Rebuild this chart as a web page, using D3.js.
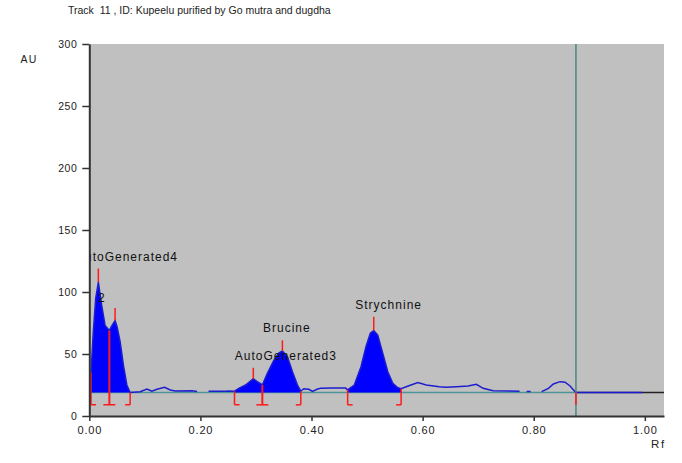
<!DOCTYPE html>
<html><head><meta charset="utf-8">
<script src="https://cdn.jsdelivr.net/npm/d3@7"></script>
<style>body{margin:0;background:#fff}svg{display:block}text{font-family:"Liberation Sans",Arial,sans-serif}</style>
</head><body><svg id="c" width="682" height="463"></svg>
<script>
// ---- data ----
const titleText = "Track  11 , ID: Kupeelu purified by Go mutra and dugdha";
const yTicks = [0, 50, 100, 150, 200, 250, 300];
const xTicks = [0, 0.2, 0.4, 0.6, 0.8, 1.0];
const rfMax = 1.0345;
// densitogram profile (null = gap in trace)
const profileRf = [0.0031,0.0072,0.0116,0.0163,0.0224,0.0284,0.0361,0.041,0.0464,0.05,0.0555,0.0614,0.0676,0.0735,
  0.0916,0.1037,0.1127,0.1218,0.1355,0.1458,0.1548,0.185,0.194,0.2053,0.2146,0.2452,0.2506,
  0.2614,0.2692,0.2813,0.2952,0.3024,0.3115,0.3205,0.3324,0.3415,0.3476,0.3566,0.3657,0.3747,0.3807,
  0.386,0.3952,0.4018,0.4108,0.4168,0.4349,0.453,0.4616,
  0.465,0.477,0.4891,0.4981,0.5059,0.512,0.5192,0.5283,0.5373,0.5463,0.5554,0.5613,
  0.574,0.5915,0.6065,0.63,0.6427,0.6607,0.6818,0.6968,0.7089,0.727,0.7745,0.78,0.7872,0.7944,0.80,
  0.8143,0.8264,0.8354,0.8473,0.8564,0.8654,0.8744,0.876,0.9952];
const profileAU = [35,68,95,108,89,73,69,73,77,72,60,41,25,19,
  19.6,21.8,20,21.5,23.1,21,20.2,20.4,19.8,null,20,20,20.2,
  20,22.3,25,30,27.7,25,34.4,45,51,52.5,47.8,35.7,25,20,
  22,21.5,19.8,21.8,22.3,22.5,22.5,22.5,
  21,25,39.8,56,66.7,69,65.3,50.5,35.7,26.4,22.8,22,
  24.2,27,25,23.6,23.1,23.6,24.2,25.5,22.3,20.4,20,null,19.8,19.8,null,
  19.6,22.3,25.8,27.7,27.2,24.2,19.6,19,19];
const baselineAU = 19;
const fillRanges = [[0.0031,0.0735],[0.2614,0.3807],[0.465,0.5613]];
const startBounds = [0.0031, 0.2614, 0.465];
const midBounds = [0.0361, 0.3115];
const endBounds = [0.0735, 0.3807, 0.5613];
const bracketAU = 9;
const peakRf = [0.0163, 0.0464, 0.2952, 0.3476, 0.512];
const peakAU = [108, 77, 30, 52.5, 69];
const markerTopAU = [119, 87, 39, 61, 80];
const frontRf = 0.876;
const labelText = ["AutoGenerated4", "2", "Brucine", "AutoGenerated3", "Strychnine"];
const labelRf = [-0.024, 0.0157, 0.3126, 0.262, 0.4788];
const labelAU = [125, 92, 67.5, 45.2, 85.9];

// ---- chart ----
const svg = d3.select("#c");
const x = d3.scaleLinear().domain([0, rfMax]).range([89.3, 664]);
const y = d3.scaleLinear().domain([0, 300]).range([416, 44]);

svg.append("text").attr("x", 68).attr("y", 13.5).attr("font-size", 10.5).attr("fill", "#222")
  .attr("xml:space", "preserve").style("white-space", "pre").text(titleText);

svg.append("defs").append("clipPath").attr("id", "pc").append("rect")
  .attr("x", x(0)).attr("y", y(300)).attr("width", x(rfMax) - x(0)).attr("height", y(0) - y(300));

svg.append("rect").attr("x", x(0)).attr("y", y(300)).attr("width", x(rfMax) - x(0)).attr("height", y(0) - y(300)).attr("fill", "#c0c0c0");

const g = svg.append("g").attr("clip-path", "url(#pc)");

const pts = profileRf.map((r, i) => ({r, a: profileAU[i]}));
const valid = pts.filter(d => d.a !== null);
const interp = r => {
  for (let i = 0; i < valid.length - 1; i++) {
    if (r >= valid[i].r && r <= valid[i+1].r) {
      const t = (r - valid[i].r) / (valid[i+1].r - valid[i].r);
      return valid[i].a + t * (valid[i+1].a - valid[i].a);
    }
  }
  return baselineAU;
};

// baseline
g.append("line").attr("x1", x(0)).attr("x2", x(frontRf)).attr("y1", y(baselineAU)).attr("y2", y(baselineAU))
  .attr("stroke", "#4f9595").attr("stroke-width", 1.5);
g.append("line").attr("x1", x(frontRf)).attr("x2", x(rfMax)).attr("y1", y(baselineAU)).attr("y2", y(baselineAU))
  .attr("stroke", "#222").attr("stroke-width", 1.5);

// fills
const area = d3.area().x(d => x(d.r)).y0(y(baselineAU)).y1(d => y(d.a));
fillRanges.forEach(([s, e]) => {
  const seg = valid.filter(d => d.r >= s - 1e-9 && d.r <= e + 1e-9);
  g.append("path").attr("d", area(seg)).attr("fill", "#0000ff");
});

// profile line
const line = d3.line().defined(d => d.a !== null).x(d => x(d.r)).y(d => y(d.a));
g.append("path").attr("d", line(pts)).attr("fill", "none").attr("stroke", "#1d1dd0").attr("stroke-width", 1.5);

// solvent front
g.append("line").attr("x1", x(frontRf)).attr("x2", x(frontRf)).attr("y1", y(300)).attr("y2", y(0))
  .attr("stroke", "#4a8686").attr("stroke-width", 1.5);

const red = "#ff1a1a";
const foot = 5;
// boundaries & brackets
startBounds.forEach(r => {
  g.append("line").attr("x1", x(r)).attr("x2", x(r)).attr("y1", y(interp(r))).attr("y2", y(bracketAU)).attr("stroke", red).attr("stroke-width", 1.5);
  g.append("line").attr("x1", x(r)).attr("x2", x(r) + foot).attr("y1", y(bracketAU)).attr("y2", y(bracketAU)).attr("stroke", red).attr("stroke-width", 1.5);
});
endBounds.forEach(r => {
  g.append("line").attr("x1", x(r)).attr("x2", x(r)).attr("y1", y(interp(r))).attr("y2", y(bracketAU)).attr("stroke", red).attr("stroke-width", 1.5);
  g.append("line").attr("x1", x(r) - foot).attr("x2", x(r)).attr("y1", y(bracketAU)).attr("y2", y(bracketAU)).attr("stroke", red).attr("stroke-width", 1.5);
});
midBounds.forEach(r => {
  g.append("line").attr("x1", x(r)).attr("x2", x(r)).attr("y1", y(interp(r))).attr("y2", y(bracketAU)).attr("stroke", red).attr("stroke-width", 2);
  g.append("line").attr("x1", x(r) - foot - 1).attr("x2", x(r) + foot + 1).attr("y1", y(bracketAU)).attr("y2", y(bracketAU)).attr("stroke", red).attr("stroke-width", 1.5);
});
// front end marker
g.append("line").attr("x1", x(frontRf)).attr("x2", x(frontRf)).attr("y1", y(baselineAU)).attr("y2", y(bracketAU)).attr("stroke", red).attr("stroke-width", 1.5);
// peak markers
peakRf.forEach((r, i) => {
  g.append("line").attr("x1", x(r)).attr("x2", x(r)).attr("y1", y(peakAU[i])).attr("y2", y(markerTopAU[i])).attr("stroke", red).attr("stroke-width", 1.5);
});

// labels
labelText.forEach((t, i) => {
  g.append("text").attr("x", x(labelRf[i])).attr("y", y(labelAU[i])).attr("font-size", 12)
    .attr("letter-spacing", t === "2" ? 0 : 1).attr("fill", "#111").text(t);
});

// axes
const ya = svg.append("g").attr("transform", `translate(${x(0)},0)`)
  .call(d3.axisLeft(y).tickValues(yTicks).tickSize(7).tickSizeOuter(0).tickPadding(5));
const xa = svg.append("g").attr("transform", `translate(0,${y(0)})`)
  .call(d3.axisBottom(x).tickValues(xTicks).tickFormat(d3.format(".2f")).tickSize(5).tickSizeOuter(0).tickPadding(5));
[ya, xa].forEach(a => {
  a.select(".domain").attr("stroke", "#333").attr("stroke-width", 2);
  a.selectAll(".tick line").attr("stroke", "#333").attr("stroke-width", 1.5);
  a.selectAll("text").attr("fill", "#222").style("font-family", '"Liberation Sans",Arial,sans-serif');
});
ya.selectAll("text").attr("font-size", 10.5).attr("letter-spacing", 0.5);
xa.selectAll("text").attr("font-size", 11).attr("letter-spacing", 0.8);

svg.append("text").attr("x", 20.5).attr("y", 62.5).attr("font-size", 10.5).attr("letter-spacing", 1.2).attr("fill", "#222").text("AU");
svg.append("text").attr("x", 651).attr("y", 448).attr("font-size", 11.5).attr("letter-spacing", 1.8).attr("fill", "#222").text("Rf");
</script></body></html>
